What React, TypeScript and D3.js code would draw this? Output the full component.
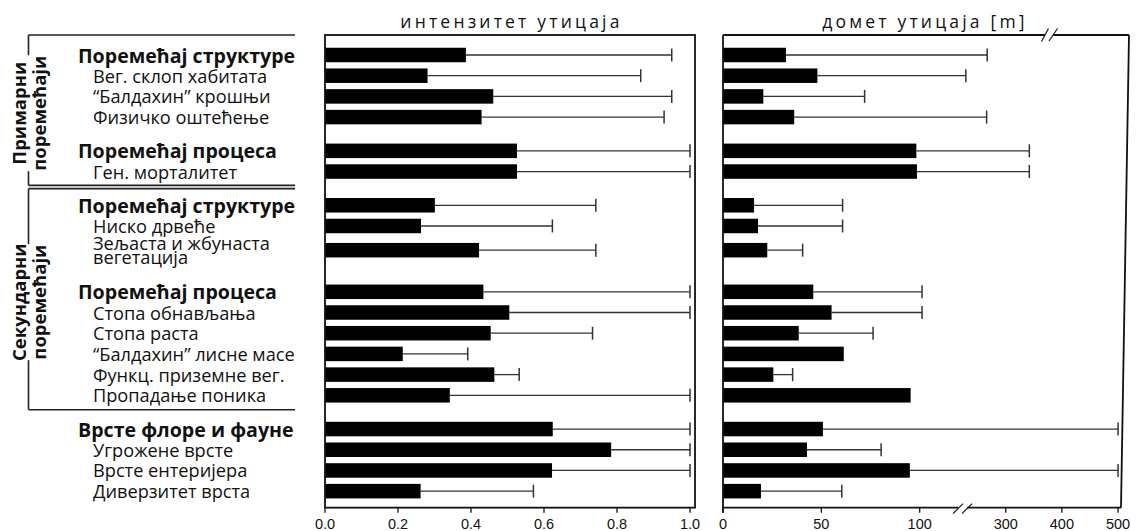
import React from "react";
import * as d3 from "d3";

const labels = [
  "Поремећај структуре", "Вег. склоп хабитата", "“Балдахин” крошњи", "Физичко оштећење",
  "Поремећај процеса", "Ген. морталитет",
  "Поремећај структуре", "Ниско дрвеће", "Зељаста и жбунаста\nвегетација",
  "Поремећај процеса", "Стопа обнављања", "Стопа раста", "“Балдахин” лисне масе", "Функц. приземне вег.", "Пропадање поника",
  "Врсте флоре и фауне", "Угрожене врсте", "Врсте ентеријера", "Диверзитет врста",
];
const headerRows = [0, 4, 6, 9, 15];
const groupStartRows = [4, 6, 9, 15];
const intensity = [0.386, 0.281, 0.461, 0.429, 0.526, 0.526, 0.301, 0.263, 0.422, 0.434, 0.505, 0.454, 0.213, 0.464, 0.342, 0.624, 0.784, 0.622, 0.262];
const intensityErr = [0.95, 0.865, 0.95, 0.929, 1, 1, 0.742, 0.623, 0.742, 1, 1, 0.733, 0.391, 0.532, 1, 1, 1, 1, 0.571];
const rangeVals = [32, 48, 20.5, 36.2, 98.3, 98.6, 15.8, 17.8, 22.5, 45.9, 55.2, 38.5, 61.4, 25.6, 95.4, 50.8, 42.7, 95, 19.3];
const rangeErr: (number | null)[] = [267, 229, 72, 266, 342, 342, 60.8, 60.8, 40.5, 101.2, 101.2, 76.3, null, 35.4, null, 500, 80.4, 500, 60.4];
const intensityTicks = [0, 0.2, 0.4, 0.6, 0.8, 1.0];
const rangeTicks = [0, 50, 100, 300, 400, 500];
const panelTitles = ["интензитет утицаја", "домет утицаја [m]"];
const sideGroupLines = [["Примарни", "поремећаји"], ["Секундарни", "поремећаји"]];

const W = 1137, H = 531;
const LABEL_FONT = "'Open Sans', 'Noto Sans', sans-serif";
const TICK_FONT = "'Liberation Sans', Arial, sans-serif";

export default function App() {
  // row slots
  const slots: number[] = [];
  let s = 0;
  labels.forEach((lab, i) => {
    if (i > 0) {
      s += 1;
      if (groupStartRows.includes(i)) s += 0.63;
      if (lab.includes("\n")) s += 0.17;
      if (labels[i - 1].includes("\n")) s += 0.38;
    }
    slots.push(s);
  });
  const yS = d3.scaleLinear().domain([0, 1]).range([55, 75.7]);
  const ys = slots.map((v) => yS(v));
  const barH = 14.5;
  const capH = 13;

  const xI = d3.scaleLinear().domain([0, 1]).range([325, 690]);
  const xR = d3.scaleLinear().domain([0, 121, 225, 507]).range([723, 961, 963.6, 1122]);

  const top = ys[0] - 20;
  const bottom = ys[ys.length - 1] + 16.5;
  const leftFrameR = 695;
  const primBottom = (ys[5] + ys[6]) / 2 - 3;
  const secTop = primBottom + 3.2;
  const secBottom = (ys[14] + ys[15]) / 2 - 2.5;
  const bx = 28.5;
  const bxEnd = 295;

  const stroke = "#111";

  const renderSide = (lines: string[], y0: number, y1: number, key: string) => {
    const cy = (y0 + y1) / 2 + 3;
    return (
      <g key={key}>
        <rect x={4} y={cy - 58} width={48} height={116} fill="#fff" />
        {lines.map((t, j) => (
          <text
            key={j}
            transform={`translate(${18 + j * 20},${cy}) rotate(-90)`}
            textAnchor="middle"
            dominantBaseline="central"
            fontFamily={LABEL_FONT}
            fontWeight="bold"
            fontSize={18.5}
            fill="#111"
          >
            {t}
          </text>
        ))}
      </g>
    );
  };

  return (
    <svg width={W} height={H} style={{ position: "absolute", left: 0, top: 0, background: "#fff" }}>
      <rect x={0} y={0} width={W} height={H} fill="#fff" />
      {/* bracket lines */}
      <g stroke="#222" strokeWidth={1.6} fill="none">
        <line x1={bx} x2={bxEnd} y1={top} y2={top} />
        <line x1={bx} x2={bx} y1={top} y2={primBottom} />
        <line x1={bx} x2={bxEnd} y1={primBottom} y2={primBottom} />
        <line x1={bx} x2={bxEnd} y1={secTop} y2={secTop} />
        <line x1={bx} x2={bx} y1={secTop} y2={secBottom} />
        <line x1={bx} x2={bxEnd} y1={secBottom} y2={secBottom} />
      </g>
      {renderSide(sideGroupLines[0], top, primBottom, "p")}
      {renderSide(sideGroupLines[1], secTop, secBottom, "s")}

      {/* row labels */}
      {labels.map((lab, i) => {
        const header = headerRows.includes(i);
        const parts = lab.split("\n");
        return (
          <text
            key={i}
            x={header ? 78 : 93}
            y={ys[i]}
            fontFamily={LABEL_FONT}
            fontWeight={header ? "bold" : "normal"}
            fontSize={header ? 19.6 : 18.2}
            fill="#111"
            dominantBaseline="central"
          >
            {parts.length === 1
              ? lab
              : parts.map((p, k) => (
                  <tspan key={k} x={93} y={ys[i] + (k - (parts.length - 1) / 2) * 14.5}>
                    {p}
                  </tspan>
                ))}
          </text>
        );
      })}

      {/* panel titles */}
      <text x={(325 + leftFrameR) / 2 + 1.5} y={21} textAnchor="middle" fontFamily={LABEL_FONT} fontSize={17.5} letterSpacing={3.2} fill="#111" dominantBaseline="central">
        {panelTitles[0]}
      </text>
      <text x={(723 + 1124) / 2 + 1.5} y={21} textAnchor="middle" fontFamily={LABEL_FONT} fontSize={17.5} letterSpacing={3.2} fill="#111" dominantBaseline="central">
        {panelTitles[1]}
      </text>

      {/* Left panel bars */}
      {intensity.map((v, i) => (
        <g key={"li" + i}>
          <line x1={xI(v)} x2={xI(intensityErr[i])} y1={ys[i]} y2={ys[i]} stroke="#333" strokeWidth={1.3} />
          <line x1={xI(intensityErr[i])} x2={xI(intensityErr[i])} y1={ys[i] - capH / 2} y2={ys[i] + capH / 2} stroke="#333" strokeWidth={1.5} />
          <rect x={xI(0)} y={ys[i] - barH / 2} width={xI(v) - xI(0)} height={barH} fill="#000" />
        </g>
      ))}
      {/* Left frame */}
      <rect x={325} y={top} width={leftFrameR - 325} height={bottom - top} fill="none" stroke={stroke} strokeWidth={1.8} />
      {intensityTicks.map((t) => (
        <g key={"lt" + t}>
          <line x1={xI(t)} x2={xI(t)} y1={bottom} y2={bottom + 5} stroke={stroke} strokeWidth={1.3} />
          <text x={xI(t)} y={529} textAnchor="middle" fontFamily={TICK_FONT} fontSize={14.5} fill="#111">
            {d3.format(".1f")(t)}
          </text>
        </g>
      ))}

      {/* Right panel bars */}
      {rangeVals.map((v, i) => {
        const e = rangeErr[i];
        return (
          <g key={"ri" + i}>
            {e != null && (
              <>
                <line x1={xR(v)} x2={xR(e)} y1={ys[i]} y2={ys[i]} stroke="#333" strokeWidth={1.3} />
                <line x1={xR(e)} x2={xR(e)} y1={ys[i] - capH / 2} y2={ys[i] + capH / 2} stroke="#333" strokeWidth={1.5} />
              </>
            )}
            <rect x={xR(0)} y={ys[i] - barH / 2} width={xR(v) - xR(0)} height={barH} fill="#000" />
          </g>
        );
      })}
      {/* Right frame with breaks */}
      <g stroke={stroke} strokeWidth={1.8} fill="none">
        <line x1={723} x2={723} y1={top} y2={bottom + 5} />
        <line x1={723} x2={1045} y1={top} y2={top} />
        <line x1={1053} x2={1129} y1={top} y2={top} />
        <line x1={1129} x2={1121} y1={top} y2={bottom} />
        <line x1={723} x2={958} y1={bottom} y2={bottom} />
        <line x1={967} x2={1121} y1={bottom} y2={bottom} />
      </g>
      <g stroke="#222" strokeWidth={1.3}>
        <line x1={1041.5} y1={top + 6.5} x2={1048.5} y2={top - 6.5} />
        <line x1={1049} y1={top + 6} x2={1057.5} y2={top - 6.5} />
        <line x1={953} y1={bottom + 6} x2={963} y2={bottom - 4} />
        <line x1={962} y1={bottom + 6} x2={972} y2={bottom - 4} />
      </g>
      {rangeTicks.map((t) => (
        <g key={"rt" + t}>
          <line x1={xR(t)} x2={xR(t)} y1={bottom} y2={bottom + 5} stroke={stroke} strokeWidth={1.3} />
          <text x={xR(t)} y={529} textAnchor="middle" fontFamily={TICK_FONT} fontSize={14.5} fill="#111">
            {t}
          </text>
        </g>
      ))}
    </svg>
  );
}
